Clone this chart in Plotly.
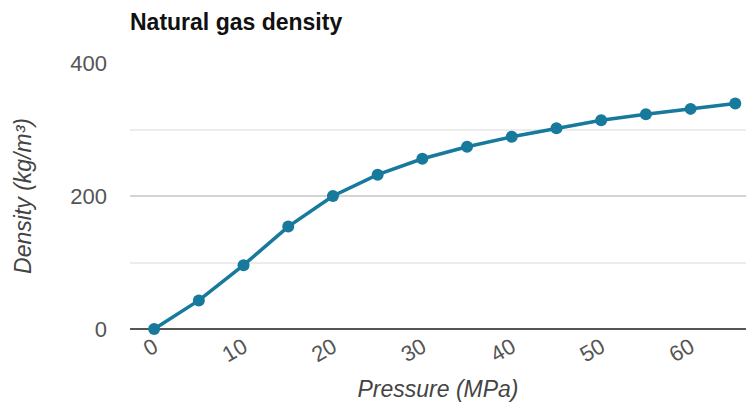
import plotly.graph_objects as go

pressure = [0, 5, 10, 15, 20, 25, 30, 35, 40, 45, 50, 55, 60, 65]
density = [0, 43, 96, 154, 200, 232, 256, 274, 289, 302, 314, 323, 331, 339]
x_ticks = [0, 10, 20, 30, 40, 50, 60]
y_ticks = [0, 200, 400]

fig = go.Figure()
fig.add_trace(go.Scatter(
    x=pressure, y=density, mode="lines+markers",
    line=dict(color="#17799b", width=3.5),
    marker=dict(color="#17799b", size=12),
    cliponaxis=False, showlegend=False,
))

fig.update_layout(
    width=746, height=410,
    margin=dict(l=130, r=0, t=63, b=81),
    paper_bgcolor="white", plot_bgcolor="white",
    font=dict(family="Liberation Sans, Arial, sans-serif", color="#555555", size=23),
    title=dict(text="<b>Natural gas density</b>", x=130/746, xanchor="left",
               y=1 - 22/410, yanchor="middle",
               font=dict(size=23, color="#111111")),
    xaxis=dict(
        range=[-2.7, 66.2], tickvals=x_ticks, tickangle=-30,
        showgrid=False, zeroline=False, showline=False, ticks="",
        automargin=False,
        tickfont=dict(size=22, color="#555555"),
        title=dict(text="<i>Pressure (MPa)</i>", standoff=14,
                   font=dict(size=23, color="#444444")),
    ),
    yaxis=dict(
        range=[0, 400], tickvals=y_ticks,
        showgrid=True, gridcolor="#d4d4d4", gridwidth=1.5,
        minor=dict(dtick=100, showgrid=True, gridcolor="#ececec", gridwidth=1.5, tick0=0),
        zeroline=True, zerolinecolor="#555555", zerolinewidth=2,
        ticks="", ticklabelstandoff=22, automargin=False,
        tickfont=dict(size=22, color="#555555"),
        title=dict(text="<i>Density (kg/m³)</i>", standoff=32,
                   font=dict(size=23, color="#444444")),
    ),
)

fig.write_html("out.html", config={"displayModeBar": False},
               post_script="document.body.style.margin='0';")
